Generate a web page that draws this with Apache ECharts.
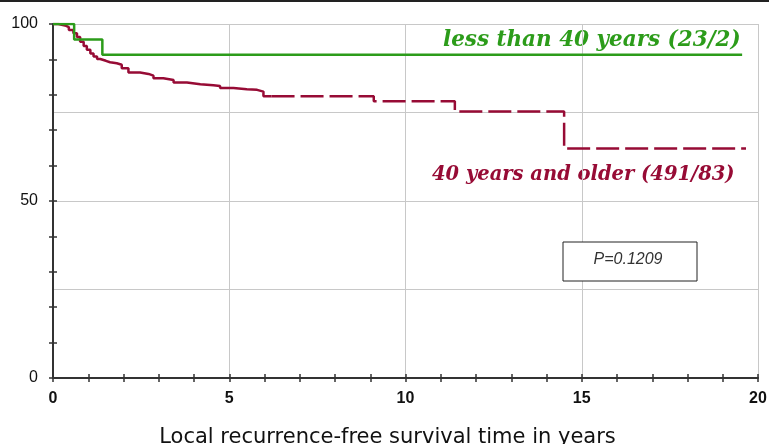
<!DOCTYPE html>
<html>
<head>
<meta charset="utf-8">
<script src="https://cdn.jsdelivr.net/npm/echarts@6/dist/echarts.min.js"></script>
<style>
  html, body { margin: 0; padding: 0; background: #fff; }
  #chart { width: 769px; height: 444px; }
</style>
</head>
<body>
<div id="chart"></div>
<script>
// less than 40 years: [time, survival %]
var youngTimes = [0, 0.6, 1.4, 19.55];
var youngSurv  = [100, 95.65, 91.3, 91.3];

// 40 years and older, solid part (early follow-up)
var oldTimes = [0, 0.15, 0.34, 0.45, 0.58, 0.68, 0.77, 0.87, 0.96, 1.06, 1.15, 1.25, 1.34, 1.5, 1.62, 1.81, 1.95, 2.14, 2.47, 2.71, 2.85, 3.13, 3.42, 3.8, 4.18, 4.55, 4.74, 5.12, 5.5, 5.79, 5.97, 6.2];
var oldSurv  = [100, 99.6, 99.1, 98.3, 97.4, 96.3, 95, 93.8, 92.7, 91.7, 90.8, 90.1, 89.6, 89.2, 88.9, 88.5, 87.5, 86.3, 85.9, 85.4, 84.7, 84.2, 83.5, 83, 82.7, 82.5, 81.9, 81.6, 81.4, 80.9, 79.6, 79.6];

// 40 years and older, dashed tail
var tailTimes = [6.2, 9.1, 11.4, 14.5, 19.66];
var tailSurv  = [79.6, 78.2, 75.3, 64.8, 64.8];

var xTitle = 'Local recurrence-free survival time in years';
var youngLabel = 'less than 40 years (23/2)';
var oldLabel = '40 years and older (491/83)';
var pText = 'P=0.1209';

function pairs(xs, ys) {
    var out = [];
    for (var i = 0; i < xs.length; i++) {
        out.push([xs[i], ys[i]]);
    }
    return out;
}

var axisColor = '#333';
var gridColor = '#c8c8c8';
var green = '#2c9c1a';
var red = '#970b35';

// plot box in pixels (grid), used to put the tick-only axes across the axis lines
var gLeft = 53, gRight = 11, gTop = 24, gBottom = 66;
var plotW = 769 - gLeft - gRight;
var plotH = 444 - gTop - gBottom;
var tickHalf = 4;

var chart = echarts.init(document.getElementById('chart'));

var tickOnly = {
    axisLine: {show: false, onZero: false},
    axisTick: {show: true, length: tickHalf * 2, lineStyle: {color: axisColor, width: 1.5}},
    axisLabel: {show: false},
    splitLine: {show: false}
};

chart.setOption({
    animation: false,
    backgroundColor: '#fff',
    grid: {left: gLeft, right: gRight, top: gTop, bottom: gBottom, containLabel: false, outerBoundsMode: 'none'},
    xAxis: [
        {
            type: 'value', min: 0, max: 20, interval: 5, position: 'bottom',
            axisLine: {show: true, onZero: false, lineStyle: {color: axisColor, width: 2}},
            axisTick: {show: false},
            axisLabel: {
                margin: 13, color: '#111', fontSize: 16, fontWeight: 'bold',
                fontFamily: 'Liberation Sans, Arial, sans-serif'
            },
            splitLine: {show: true, lineStyle: {color: gridColor, width: 1}},
            name: xTitle, nameLocation: 'middle', nameGap: 49,
            nameTextStyle: {
                color: '#111', fontSize: 21, fontFamily: 'DejaVu Sans, sans-serif',
                padding: [0, 36, 0, 0]
            }
        },
        Object.assign({type: 'value', min: 0, max: 20, interval: 1, position: 'top',
            offset: -(plotH + tickHalf)}, tickOnly)
    ],
    yAxis: [
        {
            type: 'value', min: 0, max: 100, interval: 25, position: 'left',
            axisLine: {show: true, onZero: false, lineStyle: {color: axisColor, width: 2}},
            axisTick: {show: false},
            axisLabel: {
                margin: 15, color: '#111', fontSize: 16,
                fontFamily: 'Liberation Sans, Arial, sans-serif',
                formatter: function (v) { return v % 50 === 0 ? String(v) : ''; }
            },
            splitLine: {show: true, lineStyle: {color: gridColor, width: 1}}
        },
        Object.assign({type: 'value', min: 0, max: 100, interval: 10, position: 'right',
            offset: -(plotW + tickHalf)}, tickOnly)
    ],
    series: [
        {
            type: 'line', step: 'end', symbol: 'none', z: 5,
            data: pairs(youngTimes, youngSurv),
            lineStyle: {color: green, width: 2.5}
        },
        {
            type: 'line', step: 'end', symbol: 'none', z: 4,
            data: pairs(oldTimes, oldSurv),
            lineStyle: {color: red, width: 2.5}
        },
        {
            type: 'line', step: 'end', symbol: 'none', z: 4,
            data: pairs(tailTimes, tailSurv),
            lineStyle: {color: red, width: 2.5, type: [23, 6]}
        }
    ],
    graphic: [
        {type: 'rect', shape: {x: 0, y: 0, width: 769, height: 2}, style: {fill: '#222'}},
        {
            type: 'text', left: 443, top: 29,
            style: {
                text: youngLabel, fill: green, fontSize: 21.5, fontStyle: 'italic', fontWeight: 'bold',
                fontFamily: 'DejaVu Serif, Liberation Serif, serif'
            }
        },
        {
            type: 'text', left: 432, top: 165,
            style: {
                text: oldLabel, fill: red, fontSize: 19.5, fontStyle: 'italic', fontWeight: 'bold',
                fontFamily: 'DejaVu Serif, Liberation Serif, serif'
            }
        },
        {
            type: 'rect', shape: {x: 563, y: 242, width: 134, height: 39},
            style: {fill: '#fff', stroke: '#222', lineWidth: 1}, z: 10
        },
        {
            type: 'text', x: 628, y: 260, z: 11,
            style: {
                text: pText, fill: '#333', fontSize: 16, fontStyle: 'italic',
                fontFamily: 'Liberation Sans, Arial, sans-serif', align: 'center', verticalAlign: 'middle'
            }
        }
    ]
});
</script>
</body>
</html>
